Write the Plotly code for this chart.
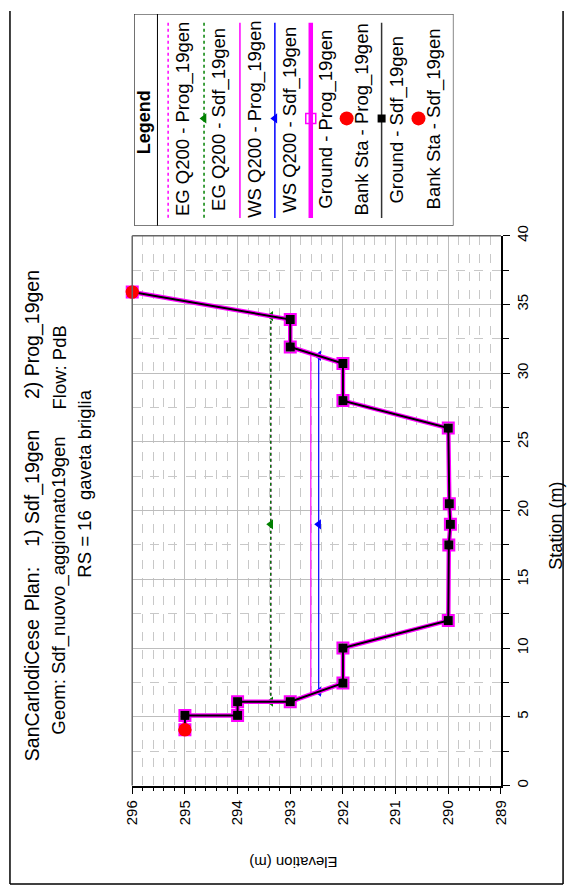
import plotly.graph_objects as go

# ---- cross-section data (station m, elevation m) ----
ground_sta = [4.05, 5.1, 5.1, 6.1, 6.1, 7.45, 10.0, 12.0, 17.5, 19.0, 20.5, 26.0, 28.0, 30.7, 31.9, 33.9, 35.9]
ground_elev = [295.0, 295.0, 294.0, 294.0, 293.0, 292.0, 292.0, 290.0, 289.99, 289.96, 289.98, 290.0, 292.0, 292.0, 293.0, 293.0, 296.0]

bank_sta = [4.05, 35.9]
bank_elev = [295.0, 296.0]

ws_sdf_sta = [6.83, 19.0, 31.26]
ws_sdf_elev = [292.46, 292.46, 292.46]

ws_prog_sta = [6.63, 31.45]
ws_prog_elev = [292.61, 292.61]

eg_sdf_sta = [6.1, 19.0, 34.15]
eg_sdf_elev = [293.37, 293.37, 293.37]

eg_prog_sta = [6.1, 34.15]
eg_prog_elev = [293.37, 293.37]

elev_ticks = [296, 295, 294, 293, 292, 291, 290, 289]
sta_ticks = [0, 5, 10, 15, 20, 25, 30, 35, 40]

legend_labels = [
    "EG Q200 - Prog_19gen", "EG Q200 - Sdf_19gen", "WS Q200 - Prog_19gen",
    "WS Q200 - Sdf_19gen", "Ground - Prog_19gen", "Bank Sta - Prog_19gen",
    "Ground - Sdf_19gen", "Bank Sta - Sdf_19gen",
]

W, H = 573, 890
FONT = "Liberation Sans, Arial, sans-serif"
MAG = "#ff00ff"
GREEN = "#008000"
BLUE = "#0000ff"
RED = "#ff0000"


def fx(px):
    return px / W


def fy(py):
    return 1 - py / H


fig = go.Figure()

# ---- main section (elevation horizontal, station vertical) ----
fig.add_trace(go.Scatter(x=eg_prog_elev, y=eg_prog_sta, mode="lines", cliponaxis=False,
                         line=dict(color=MAG, width=1.5, dash="dot")))
fig.add_trace(go.Scatter(x=eg_sdf_elev, y=eg_sdf_sta, mode="lines+markers", cliponaxis=False,
                         line=dict(color=GREEN, width=1.5, dash="dot"),
                         marker=dict(symbol="triangle-left", size=9, color=GREEN)))
fig.add_trace(go.Scatter(x=ws_prog_elev, y=ws_prog_sta, mode="lines", cliponaxis=False,
                         line=dict(color=MAG, width=1.2)))
fig.add_trace(go.Scatter(x=ws_sdf_elev, y=ws_sdf_sta, mode="lines+markers", cliponaxis=False,
                         line=dict(color=BLUE, width=1.2),
                         marker=dict(symbol="triangle-left", size=9, color=BLUE)))
fig.add_trace(go.Scatter(x=ground_elev, y=ground_sta, mode="lines+markers", cliponaxis=False,
                         line=dict(color=MAG, width=4.5),
                         marker=dict(symbol="square-open", size=11, color=MAG, line=dict(width=2, color=MAG))))
fig.add_trace(go.Scatter(x=ground_elev, y=ground_sta, mode="lines+markers", cliponaxis=False,
                         line=dict(color="black", width=2),
                         marker=dict(symbol="square", size=9, color="black")))
fig.add_trace(go.Scatter(x=bank_elev, y=bank_sta, mode="markers", cliponaxis=False,
                         marker=dict(symbol="circle", size=13, color=RED)))
fig.add_trace(go.Scatter(x=bank_elev, y=bank_sta, mode="markers", cliponaxis=False,
                         marker=dict(symbol="circle", size=13, color=RED)))

# ---- legend samples (pixel-space overlay axes) ----
LX0, LX1, LY0, LY1 = 129, 458, 3, 218
entry_x = [164, 201, 238, 274, 311, 348, 384, 422]
line_styles = [
    dict(color=MAG, width=1.5, dash="dot"),
    dict(color=GREEN, width=1.5, dash="dot"),
    dict(color=MAG, width=1.5),
    dict(color=BLUE, width=1.5),
    dict(color=MAG, width=4.5),
    None,
    dict(color="#333333", width=1.5),
    None,
]
markers = [
    None,
    dict(symbol="triangle-left", size=9, color=GREEN),
    None,
    dict(symbol="triangle-left", size=9, color=BLUE),
    dict(symbol="square-open", size=10, color=MAG, line=dict(width=1.5, color=MAG)),
    dict(symbol="circle", size=14, color=RED),
    dict(symbol="square", size=8, color="black"),
    dict(symbol="circle", size=14, color=RED),
]
for lx, ls, mk in zip(entry_x, line_styles, markers):
    if ls is not None:
        fig.add_trace(go.Scatter(x=[lx, lx], y=[12, 210], mode="lines", line=ls,
                                 xaxis="x2", yaxis="y2"))
    if mk is not None:
        fig.add_trace(go.Scatter(x=[lx], y=[109], mode="markers", marker=mk,
                                 xaxis="x2", yaxis="y2"))

annotations = []
for lx, lab in zip(entry_x, legend_labels):
    annotations.append(dict(x=lx + 16, y=110, xref="x2", yref="y2", text=lab,
                            textangle=-90, showarrow=False,
                            font=dict(family=FONT, size=18.5, color="black")))
annotations.append(dict(x=140, y=113, xref="x2", yref="y2", text="<b>Legend</b>",
                        textangle=-90, showarrow=False,
                        font=dict(family=FONT, size=18, color="black")))


def rot_text(text, px, py, size, anchor="bottom", angle=-90):
    annotations.append(dict(x=fx(px), y=fy(py), xref="paper", yref="paper", text=text,
                            textangle=angle, showarrow=False, xanchor="center",
                            yanchor=anchor, font=dict(family=FONT, size=size, color="black")))


# title block
rot_text("SanCarlodiCese", 24, 763, 19.5)
rot_text("Plan:", 24, 611, 19.5)
rot_text("1) Sdf_19gen", 24, 546, 19.5)
rot_text("2) Prog_19gen", 24, 396, 19.5)
rot_text("Geom: Sdf_nuovo_aggiornato19gen", 52, 736, 18.5)
rot_text("Flow: PdB", 52, 406, 18.5)
rot_text("RS = 16  gaveta briglia", 78, 480, 18.5, anchor="middle")

# axis titles
rot_text("Station (m)", 564, 522, 18, anchor="middle")
rot_text("Elevation (m)", 293, 864, 15, anchor="middle", angle=180)

shapes = [
    # gray frame edges of plot area (top and left)
    dict(type="line", xref="paper", yref="paper", x0=fx(127), x1=fx(507), y0=fy(228), y1=fy(228),
         line=dict(color="#666666", width=1.5)),
    dict(type="line", xref="paper", yref="paper", x0=fx(127), x1=fx(127), y0=fy(228), y1=fy(786),
         line=dict(color="#666666", width=1.5)),
    # legend box and separator
    dict(type="rect", xref="x2", yref="y2", x0=LX0, x1=LX1, y0=LY0, y1=LY1,
         line=dict(color="black", width=1)),
    dict(type="line", xref="x2", yref="y2", x0=153, x1=153, y0=LY0, y1=LY1,
         line=dict(color="black", width=1)),
    # outer page frame
    dict(type="line", xref="paper", yref="paper", x0=fx(1), x1=fx(1), y0=fy(0), y1=fy(886),
         line=dict(color="black", width=1.5)),
    dict(type="line", xref="paper", yref="paper", x0=fx(1), x1=fx(571), y0=fy(886), y1=fy(886),
         line=dict(color="black", width=1.5)),
    dict(type="line", xref="paper", yref="paper", x0=fx(571), x1=fx(571), y0=fy(0), y1=fy(886),
         line=dict(color="black", width=1.5)),
]

fig.update_layout(
    width=W, height=H,
    margin=dict(l=0, r=0, t=0, b=0),
    paper_bgcolor="white", plot_bgcolor="white",
    showlegend=False,
    font=dict(family=FONT, size=15, color="black"),
    xaxis=dict(
        domain=[fx(127), fx(507)], range=[296, 289], anchor="y",
        tickmode="array", tickvals=elev_ticks, ticktext=[str(v) for v in elev_ticks],
        ticks="outside", ticklen=7, tickwidth=1, tickcolor="black", tickangle=-90,
        tickfont=dict(size=15),
        showline=True, linecolor="black", linewidth=1.5,
        showgrid=True, gridcolor="#bdbdbd", gridwidth=1, zeroline=False,
        minor=dict(dtick=0.2, tick0=289, ticks="outside", ticklen=4, tickcolor="black",
                   showgrid=True, gridcolor="#c8c8c8", griddash="dash", gridwidth=1),
    ),
    yaxis=dict(
        domain=[fy(786), fy(228)], range=[0, 40], anchor="x", side="right",
        tickmode="array", tickvals=sta_ticks, ticktext=[str(v) for v in sta_ticks],
        ticks="outside", ticklen=7, tickwidth=1, tickcolor="black", tickangle=-90,
        tickfont=dict(size=15),
        showline=True, linecolor="black", linewidth=1.5,
        showgrid=True, gridcolor="#bdbdbd", gridwidth=1, zeroline=False,
        minor=dict(dtick=2.5, tick0=0, ticks="outside", ticklen=6, tickcolor="black",
                   showgrid=True, gridcolor="#c8c8c8", griddash="dash", gridwidth=1),
    ),
    xaxis2=dict(domain=[fx(LX0), fx(LX1)], range=[LX0, LX1], visible=False, anchor="y2"),
    yaxis2=dict(domain=[fy(LY1), fy(LY0)], range=[LY1, LY0], visible=False, anchor="x2"),
    annotations=annotations,
    shapes=shapes,
)

fig.write_html("out.html")
